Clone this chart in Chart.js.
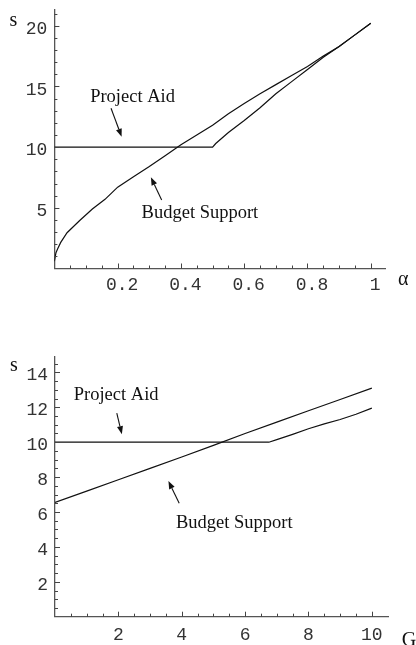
<!DOCTYPE html>
<html><head><meta charset="utf-8">
<script src="https://cdn.jsdelivr.net/npm/chart.js@4"></script>
<style>
html,body{margin:0;padding:0;background:#fff;width:416px;height:645px;overflow:hidden}
canvas{position:absolute;left:0}
#c1{top:0}
#c2{top:310px}
</style></head><body>
<canvas id="c1" width="416" height="310"></canvas>
<canvas id="c2" width="416" height="335"></canvas>
<script>
// ---------- Top chart (s vs alpha) ----------
const alphaBudget   = [0, 0.005, 0.01, 0.02, 0.04, 0.08, 0.12, 0.16, 0.2, 0.25, 0.3, 0.35, 0.4, 0.45, 0.5, 0.55, 0.6, 0.65, 0.7, 0.75, 0.8, 0.85, 0.9, 0.95, 1.0];
const budgetTop     = [0.6, 1.3, 1.6, 2.15, 2.95, 3.95, 4.9, 5.7, 6.7, 7.55, 8.4, 9.3, 10.2, 11.0, 11.8, 12.75, 13.6, 14.4, 15.15, 15.9, 16.65, 17.5, 18.3, 19.25, 20.2];
const alphaProject  = [0, 0.5, 0.51, 0.55, 0.6, 0.65, 0.7, 0.75, 0.8, 0.85, 0.9, 0.95, 1.0];
const projectTop    = [10, 10, 10.3, 11.2, 12.2, 13.25, 14.4, 15.4, 16.4, 17.4, 18.3, 19.25, 20.2];
const topXTicks     = [0.2, 0.4, 0.6, 0.8, 1];
const topXTickLabels= ['0.2', '0.4', '0.6', '0.8', '1'];
const topXMinor     = [0.05, 0.1, 0.15, 0.25, 0.3, 0.35, 0.45, 0.5, 0.55, 0.65, 0.7, 0.75, 0.85, 0.9, 0.95, 1.0];
const topYTicks     = [5, 10, 15, 20];
const topYMinor     = [1, 2, 3, 4, 6, 7, 8, 9, 11, 12, 13, 14, 16, 17, 18, 19, 21];

// ---------- Bottom chart (s vs G) ----------
const gBudget       = [0, 1, 2, 3, 4, 5, 6, 7, 8, 9, 10];
const budgetBottom  = [6.55, 7.2, 7.85, 8.5, 9.15, 9.82, 10.5, 11.15, 11.8, 12.45, 13.1];
const gProject      = [0, 6.75, 7, 7.5, 8, 8.5, 9, 9.5, 10];
const projectBottom = [10, 10, 10.15, 10.45, 10.77, 11.05, 11.3, 11.6, 11.95];
const botXTicks     = [2, 4, 6, 8, 10];
const botXTickLabels= ['2', '4', '6', '8', '10'];
const botXMinor     = [0.5, 1, 1.5, 2.5, 3, 3.5, 4.5, 5, 5.5, 6.5, 7, 7.5, 8.5, 9, 9.5];
const botYTicks     = [2, 4, 6, 8, 10, 12, 14];
const botYMinor     = [0.5, 1, 1.5, 2.5, 3, 3.5, 4.5, 5, 5.5, 6.5, 7, 7.5, 8.5, 9, 9.5, 10.5, 11, 11.5, 12.5, 13, 13.5, 14.5];

const pts = (xs, ys) => xs.map((x, i) => ({x, y: ys[i]}));

const decor = {
  id: 'decor',
  afterDraw(chart, args, o) {
    const {ctx, chartArea: a, scales: {x, y}} = chart;
    ctx.save();
    ctx.strokeStyle = '#444';
    ctx.lineWidth = 1;
    const tick = (px, py, dx, dy) => { ctx.beginPath(); ctx.moveTo(px, py); ctx.lineTo(px + dx, py + dy); ctx.stroke(); };
    o.xMinor.forEach(v => tick(Math.round(x.getPixelForValue(v)) + 0.5, a.bottom, 0, -3));
    o.xMajor.forEach(v => tick(Math.round(x.getPixelForValue(v)) + 0.5, a.bottom, 0, -5));
    o.yMinor.forEach(v => tick(a.left, Math.round(y.getPixelForValue(v)) + 0.5, 3, 0));
    o.yMajor.forEach(v => tick(a.left, Math.round(y.getPixelForValue(v)) + 0.5, 5, 0));

    ctx.fillStyle = '#111';
    ctx.strokeStyle = '#111';
    ctx.textAlign = 'center';
    ctx.textBaseline = 'middle';
    ctx.font = '18.5px "Liberation Serif", "Times New Roman", serif';
    o.notes.forEach(n => {
      ctx.fillText(n.text, x.getPixelForValue(n.x), y.getPixelForValue(n.y));
      const x0 = x.getPixelForValue(n.ax0), y0 = y.getPixelForValue(n.ay0);
      const x1 = x.getPixelForValue(n.ax1), y1 = y.getPixelForValue(n.ay1);
      const ang = Math.atan2(y1 - y0, x1 - x0);
      const L = 8, W = 3;
      const bx = x1 - L * Math.cos(ang), by = y1 - L * Math.sin(ang);
      ctx.lineWidth = 1.1;
      ctx.beginPath(); ctx.moveTo(x0, y0); ctx.lineTo(bx, by); ctx.stroke();
      ctx.beginPath();
      ctx.moveTo(x1, y1);
      ctx.lineTo(bx + W * Math.sin(ang), by - W * Math.cos(ang));
      ctx.lineTo(bx - W * Math.sin(ang), by + W * Math.cos(ang));
      ctx.closePath(); ctx.fill();
    });

    ctx.textAlign = 'left';
    ctx.textBaseline = 'alphabetic';
    ctx.font = '20px "Liberation Serif", "Times New Roman", serif';
    ctx.fillText('s', a.left - 45, a.top + o.sDy);
    ctx.fillText(o.xTitle, a.right + o.xtDx, a.bottom + o.xtDy);
    ctx.restore();
  }
};

function makeChart(id, cfg) {
  return new Chart(document.getElementById(id), {
    type: 'line',
    data: { datasets: [
      { data: cfg.budget, borderColor: '#111', borderWidth: 1.2, pointRadius: 0, tension: 0, fill: false },
      { data: cfg.project, borderColor: '#111', borderWidth: 1.2, pointRadius: 0, tension: 0, fill: false }
    ]},
    options: {
      responsive: false, animation: false, events: [],
      layout: { padding: cfg.padding },
      plugins: { legend: { display: false }, tooltip: { enabled: false }, decor: cfg.decor },
      scales: {
        x: {
          type: 'linear', min: cfg.xMin, max: cfg.xMax,
          afterBuildTicks: s => { s.ticks = cfg.xTicks.map(v => ({value: v})); },
          afterFit: s => { s.height = cfg.xHeight; s.paddingLeft = 0; s.paddingRight = 0; },
          grid: { display: false, drawTicks: false },
          border: { display: true, color: '#555', width: 1.3 },
          ticks: {
            autoSkip: false, maxRotation: 0, padding: cfg.xPad, labelOffset: cfg.xLabelOffset,
            color: '#333', font: { family: '"Liberation Mono", "Courier New", monospace', size: 18 },
            callback: v => cfg.xLabels[cfg.xTicks.indexOf(v)] ?? ''
          }
        },
        y: {
          type: 'linear', min: cfg.yMin, max: cfg.yMax,
          afterBuildTicks: s => { s.ticks = cfg.yTicks.map(v => ({value: v})); },
          afterFit: s => { s.width = cfg.yWidth; s.paddingTop = 0; s.paddingBottom = 0; },
          grid: { display: false, drawTicks: false },
          border: { display: true, color: '#555', width: 1.3 },
          ticks: {
            autoSkip: false, padding: 7, labelOffset: 3.3,
            color: '#333', font: { family: '"Liberation Mono", "Courier New", monospace', size: 18 },
            callback: v => String(v)
          }
        }
      }
    },
    plugins: [decor]
  });
}

makeChart('c1', {
  budget: pts(alphaBudget, budgetTop),
  project: pts(alphaProject, projectTop),
  xMin: 0, xMax: 1.045, yMin: 0, yMax: 21.3,
  xTicks: topXTicks, xLabels: topXTickLabels, yTicks: topYTicks,
  padding: { top: 10, left: 0, right: 31, bottom: 0 },
  xHeight: 41.5, yWidth: 54.4, xPad: 6.4, xLabelOffset: 4.5,
  decor: {
    xMinor: topXMinor, xMajor: topXTicks, yMinor: topYMinor, yMajor: topYTicks,
    sDy: 16, xTitle: 'α', xtDx: 13, xtDy: 16.5,
    notes: [
      { text: 'Project Aid', x: 0.247, y: 14.13, ax0: 0.179, ay0: 13.2, ax1: 0.2126, ay1: 10.86 },
      { text: 'Budget Support', x: 0.46, y: 4.57, ax0: 0.339, ay0: 5.64, ax1: 0.305, ay1: 7.51 }
    ]
  }
});

makeChart('c2', {
  budget: pts(gBudget, budgetBottom),
  project: pts(gProject, projectBottom),
  xMin: 0, xMax: 10.52, yMin: 0, yMax: 14.9,
  xTicks: botXTicks, xLabels: botXTickLabels, yTicks: botYTicks,
  padding: { top: 46.7, left: 0, right: 27.7, bottom: 0 },
  xHeight: 28.3, yWidth: 55, xPad: 7.5, xLabelOffset: 0,
  decor: {
    xMinor: botXMinor, xMajor: botXTicks, yMinor: botYMinor, yMajor: botYTicks,
    sDy: 14, xTitle: 'G', xtDx: 13.5, xtDy: 29,
    notes: [
      { text: 'Project Aid', x: 1.93, y: 12.71, ax0: 1.95, ay0: 11.66, ax1: 2.11, ay1: 10.46 },
      { text: 'Budget Support', x: 5.66, y: 5.36, ax0: 3.92, ay0: 6.5, ax1: 3.58, ay1: 7.78 }
    ]
  }
});
</script>
</body></html>
